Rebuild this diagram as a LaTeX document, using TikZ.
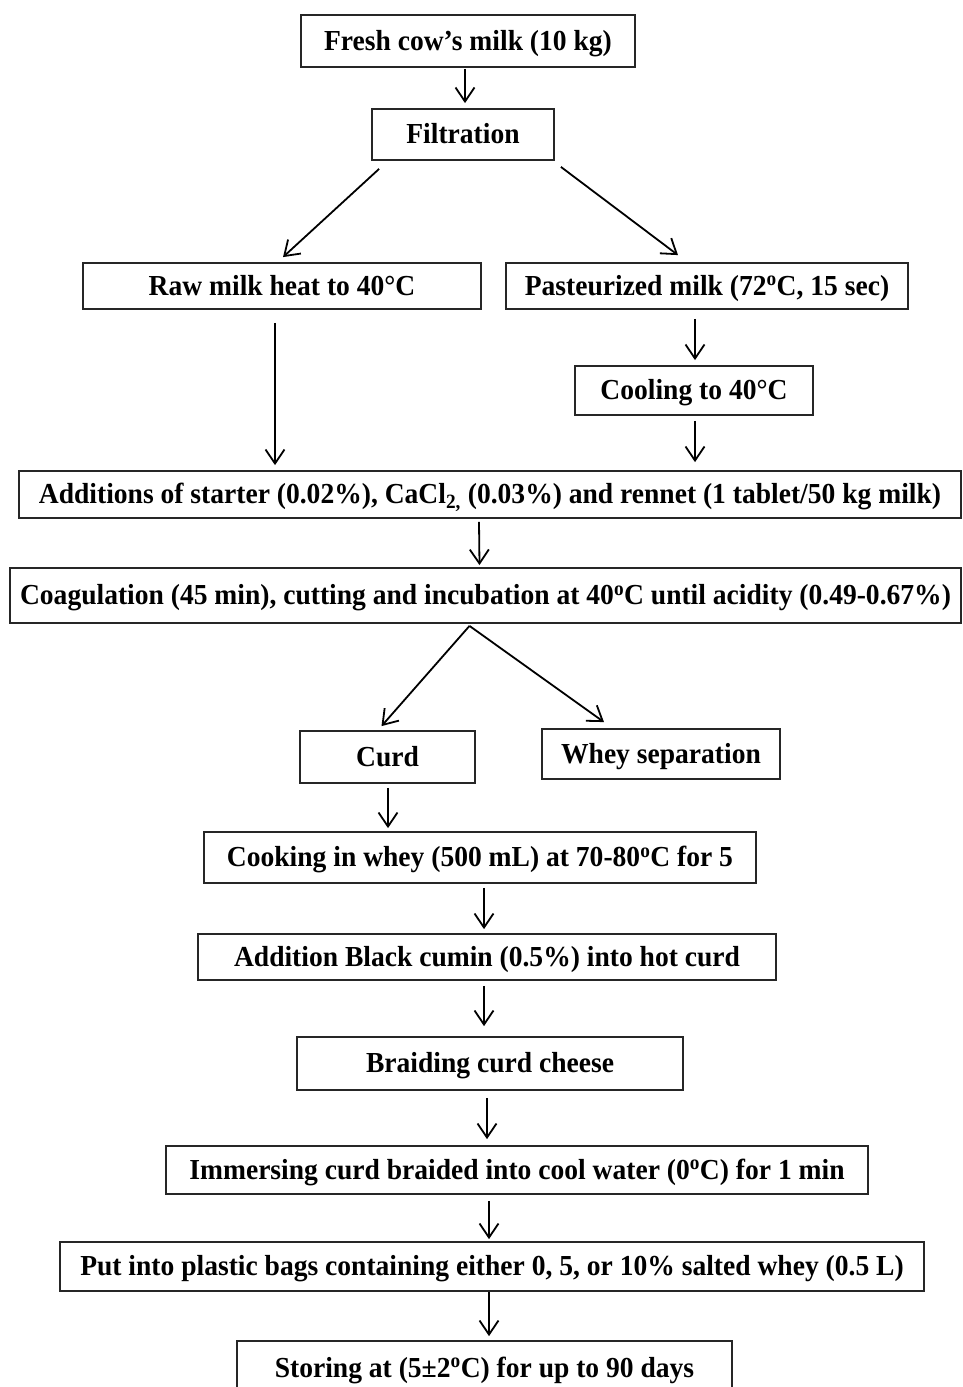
\documentclass[tikz,border=0pt]{standalone}
\usepackage{fontspec}
\setmainfont[FakeStretch=0.95]{Liberation Serif}
\usetikzlibrary{arrows.meta,calc}
\tikzset{
  box/.style={draw=black!85, line width=1.8pt, inner sep=0pt, align=center,
    text height=22pt, text depth=4pt,
    font=\fontsize{29}{31}\selectfont\bfseries},
  arr/.style={draw=black, line width=1.8pt, -{Straight Barb[length=14pt,width=19pt,line width=1.8pt]}}
}
\newcommand{\dg}{\textsuperscript{o}}
\begin{document}
\begin{tikzpicture}[x=1pt,y=-1pt]
\useasboundingbox (0,0) rectangle (962,1387);
\clip (0,0) rectangle (962,1387);
\fill[white] (0,0) rectangle (962,1387);
\node[box, minimum width=334pt, minimum height=52pt] (fresh) at (468,41) {Fresh cow’s milk (10 kg)};
\node[box, minimum width=182pt, minimum height=51pt] (filt) at (463,134.5) {Filtration};
\node[box, minimum width=398pt, minimum height=46pt] (raw) at (282,286) {Raw milk heat to 40°C};
\node[box, minimum width=402pt, minimum height=46pt] (past) at (707,286) {Pasteurized milk (72\dg C, 15 sec)};
\node[box, minimum width=238pt, minimum height=49pt] (cool) at (694,390.5) {Cooling to 40°C};
\node[box, minimum width=942pt, minimum height=47pt] (add) at (490,494.5) {Additions of starter (0.02\%), CaCl\textsubscript{2,} (0.03\%) and rennet (1 tablet/50 kg milk)};
\node[box, minimum width=951pt, minimum height=55pt] (coag) at (485.5,595.5) {Coagulation (45 min), cutting and incubation at 40\dg C until acidity (0.49-0.67\%)};
\node[box, minimum width=175pt, minimum height=52pt] (curd) at (387.5,757) {Curd};
\node[box, minimum width=238pt, minimum height=50pt] (whey) at (661,754) {Whey separation};
\node[box, minimum width=552pt, minimum height=51pt] (cook) at (480,857.5) {Cooking in whey (500 mL) at 70-80\dg C for 5};
\node[box, minimum width=578pt, minimum height=46pt] (cumin) at (487,957) {Addition Black cumin (0.5\%) into hot curd};
\node[box, minimum width=386pt, minimum height=53pt] (braid) at (490,1063.5) {Braiding curd cheese};
\node[box, minimum width=702pt, minimum height=48pt] (imm) at (517,1170) {Immersing curd braided into cool water (0\dg C) for 1 min};
\node[box, minimum width=864pt, minimum height=49pt] (put) at (492,1266.5) {Put into plastic bags containing either 0, 5, or 10\% salted whey (0.5 L)};
\node[box, minimum width=495pt, minimum height=54pt] (store) at (484.5,1368) {Storing at (5±2\dg C) for up to 90 days};

\draw[arr] ($(fresh.south)+(-3,1)$) -- ($(filt.north)+(2,-5)$);
\draw[arr] ($(filt.south west)+(8,8)$) -- ($(raw.north)+(1,-5)$);
\draw[arr] ($(filt.south east)+(6,6)$) -- ($(past.north)+(-29,-7)$);
\draw[arr] ($(raw.south)+(-7,13)$) -- ($(add.north)+(-215,-5)$);
\draw[arr] ($(past.south)+(-12,9)$) -- ($(cool.north)+(1,-5)$);
\draw[arr] ($(cool.south)+(1,5)$) -- ($(add.north)+(205,-8)$);
\draw[arr] ($(add.south)+(-11,3)$) -- ($(coag.north)+(-6,-2)$);
\draw[arr] ($(coag.south)+(-16,2)$) -- ($(curd.north)+(-6,-4)$);
\draw[arr] ($(coag.south)+(-16,2)$) -- ($(whey.north)+(-57,-6)$);
\draw[arr] ($(curd.south)+(0.5,4)$) -- ($(cook.north)+(-92,-3)$);
\draw[arr] ($(cook.south)+(4,4)$) -- ($(cumin.north)+(-3,-4)$);
\draw[arr] ($(cumin.south)+(-3,5)$) -- ($(braid.north)+(-6,-10)$);
\draw[arr] ($(braid.south)+(-3,7)$) -- ($(imm.north)+(-30,-6)$);
\draw[arr] ($(imm.south)+(-28,6)$) -- ($(put.north)+(-3,-2)$);
\draw[arr] ($(put.south)+(-3,0)$) -- ($(store.north)+(4.5,-4)$);
\end{tikzpicture}
\end{document}
